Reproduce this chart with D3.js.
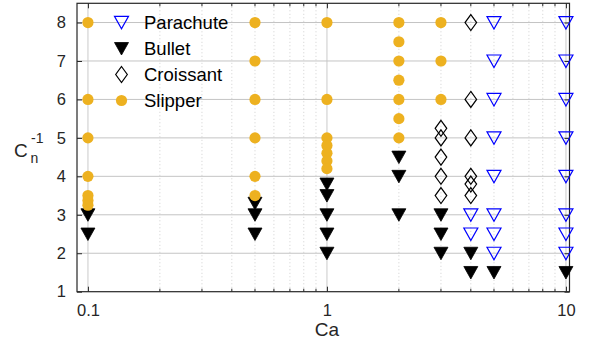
<!DOCTYPE html>
<html>
<head>
<meta charset="utf-8">
<script src="https://cdn.jsdelivr.net/npm/d3@7"></script>
<style>
  body { margin: 0; background: #fff; }
  svg { font-family: "Liberation Sans", Arial, Helvetica, sans-serif; }
</style>
</head>
<body>
<div id="chart"></div>
<script>
// Data: [Ca, 1/Cn]
const parachute = [
  [4, 3], [4, 2.5],
  [5, 8], [5, 7], [5, 6], [5, 5], [5, 4], [5, 3], [5, 2.5], [5, 2],
  [10, 8], [10, 7], [10, 6], [10, 5], [10, 4], [10, 3], [10, 2.5], [10, 2]
];
const bullet = [
  [0.1, 3], [0.1, 2.5],
  [0.5, 3.3], [0.5, 3], [0.5, 2.5],
  [1, 3.8], [1, 3.5], [1, 3], [1, 2.5], [1, 2],
  [2, 4.5], [2, 4], [2, 3],
  [3, 3], [3, 2.5], [3, 2],
  [4, 2], [4, 1.5],
  [5, 1.5],
  [10, 1.5]
];
const croissant = [
  [3, 5.25], [3, 5], [3, 4.5], [3, 4], [3, 3.5],
  [4, 8], [4, 6], [4, 5], [4, 4], [4, 3.8], [4, 3.5]
];
const slipper = [
  [0.1, 8], [0.1, 6], [0.1, 5], [0.1, 4], [0.1, 3.5], [0.1, 3.37], [0.1, 3.25],
  [0.5, 8], [0.5, 7], [0.5, 6], [0.5, 5], [0.5, 4], [0.5, 3.5],
  [1, 8], [1, 6], [1, 5], [1, 4.8], [1, 4.6], [1, 4.4], [1, 4.2],
  [2, 8], [2, 7.5], [2, 7], [2, 6.5], [2, 6], [2, 5.5], [2, 5],
  [3, 8], [3, 7], [3, 6]
];
const xTicks = [0.1, 1, 10];
const yTicks = [1, 2, 3, 4, 5, 6, 7, 8];
const seriesNames = ["Parachute", "Bullet", "Croissant", "Slipper"];

const W = 590, H = 343;
const plot = { left: 77, right: 569.5, top: 3.3, bottom: 291.7 };
const AXIS = "#262626";

const svg = d3.select("#chart").append("svg")
  .attr("width", W).attr("height", H);

const x = d3.scaleLog().domain([0.09, 10.35]).range([plot.left, plot.right]);
const y = d3.scaleLinear().domain([1, 8.5]).range([plot.bottom, plot.top]);

// minor log positions
const minorX = [];
[0.1, 1].forEach(dec => { for (let k = 2; k <= 9; k++) minorX.push(dec * k); });

// Grid
const grid = svg.append("g");
grid.selectAll(".gminor").data(minorX).join("line")
  .attr("x1", d => x(d)).attr("x2", d => x(d))
  .attr("y1", plot.top).attr("y2", plot.bottom)
  .attr("stroke", "#cfcfcf").attr("stroke-width", 1)
  .attr("stroke-dasharray", "1 2.5");
grid.selectAll(".gx").data(xTicks).join("line")
  .attr("x1", d => x(d)).attr("x2", d => x(d))
  .attr("y1", plot.top).attr("y2", plot.bottom)
  .attr("stroke", "#dcdcdc").attr("stroke-width", 1.5);
grid.selectAll(".gy").data(yTicks.slice(1)).join("line")
  .attr("x1", plot.left).attr("x2", plot.right)
  .attr("y1", d => y(d)).attr("y2", d => y(d))
  .attr("stroke", "#c4c4c4").attr("stroke-width", 1);

// Axes (ticks inward, box on)
const ax = svg.append("g");
const xb = d3.axisBottom(x).tickValues(xTicks).tickFormat(d3.format("")).tickSizeInner(-5).tickSizeOuter(0).tickPadding(13);
const xt = d3.axisTop(x).tickValues(xTicks).tickFormat("").tickSizeInner(-5).tickSizeOuter(0);
const yl = d3.axisLeft(y).tickValues(yTicks).tickFormat(d3.format("d")).tickSizeInner(-5).tickSizeOuter(0).tickPadding(11);
const yr = d3.axisRight(y).tickValues(yTicks).tickFormat("").tickSizeInner(-5).tickSizeOuter(0);

function styleAxis(g) {
  g.select(".domain").remove();
  g.selectAll(".tick line").attr("stroke", AXIS);
  g.selectAll(".tick text").attr("fill", AXIS).attr("font-size", "16.5px")
    .attr("font-family", "Liberation Sans, Arial, sans-serif");
}
ax.append("g").attr("transform", `translate(0,${plot.bottom})`).call(xb).call(styleAxis);
ax.append("g").attr("transform", `translate(0,${plot.top})`).call(xt).call(styleAxis);
ax.append("g").attr("transform", `translate(${plot.left},0)`).call(yl).call(styleAxis);
ax.append("g").attr("transform", `translate(${plot.right},0)`).call(yr).call(styleAxis);

// minor ticks top & bottom
ax.selectAll(".mtb").data(minorX).join("line")
  .attr("x1", d => x(d)).attr("x2", d => x(d))
  .attr("y1", plot.bottom).attr("y2", plot.bottom - 3)
  .attr("stroke", AXIS);
ax.selectAll(".mtt").data(minorX).join("line")
  .attr("x1", d => x(d)).attr("x2", d => x(d))
  .attr("y1", plot.top).attr("y2", plot.top + 3)
  .attr("stroke", AXIS);

ax.append("rect")
  .attr("x", plot.left).attr("y", plot.top)
  .attr("width", plot.right - plot.left).attr("height", plot.bottom - plot.top)
  .attr("fill", "none").attr("stroke", AXIS).attr("stroke-width", 1.2);

// Marker shapes
const triPath = "M-7,-6L7,-6L0,6.5Z";
const diaPath = "M0,-8L5.8,0L0,8L-5.8,0Z";

function drawParachute(g) {
  g.append("path").attr("d", triPath).attr("fill", "none")
    .attr("stroke", "#0000ff").attr("stroke-width", 1.2);
}
function drawBullet(g) {
  g.append("path").attr("d", triPath).attr("fill", "#000").attr("stroke", "#000").attr("stroke-width", 0.8);
}
function drawCroissant(g) {
  g.append("path").attr("d", diaPath).attr("fill", "none")
    .attr("stroke", "#000").attr("stroke-width", 1.2);
}
function drawSlipper(g) {
  g.append("circle").attr("r", 5.6).attr("fill", "#EDB120");
}
const drawers = [drawParachute, drawBullet, drawCroissant, drawSlipper];
const allSeries = [parachute, bullet, croissant, slipper];

const marks = svg.append("g");
allSeries.forEach((data, i) => {
  marks.selectAll(null).data(data).join("g")
    .attr("transform", d => `translate(${x(d[0])},${y(d[1])})`)
    .each(function() { drawers[i](d3.select(this)); });
});

// Legend
const legend = svg.append("g");
const legY = [22.3, 48.5, 74.5, 100.5];
seriesNames.forEach((name, i) => {
  const g = legend.append("g").attr("transform", `translate(121.5,${legY[i]})`);
  drawers[i](g);
  legend.append("text")
    .attr("x", 144).attr("y", legY[i] + 6.5)
    .attr("font-size", "18.5px").attr("fill", "#000")
    .text(name);
});

// Axis labels
svg.append("text")
  .attr("x", x(1)).attr("y", 336)
  .attr("text-anchor", "middle").attr("font-size", "19px").attr("fill", AXIS)
  .text("Ca");

const yLab = svg.append("text")
  .attr("x", 14).attr("y", 156.5)
  .attr("font-size", "19px").attr("fill", AXIS);
yLab.append("tspan").text("C");
yLab.append("tspan").attr("x", 31).attr("y", 143).attr("font-size", "14px").text("-1");
yLab.append("tspan").attr("x", 30.5).attr("y", 163).attr("font-size", "14px").text("n");
</script>
</body>
</html>
